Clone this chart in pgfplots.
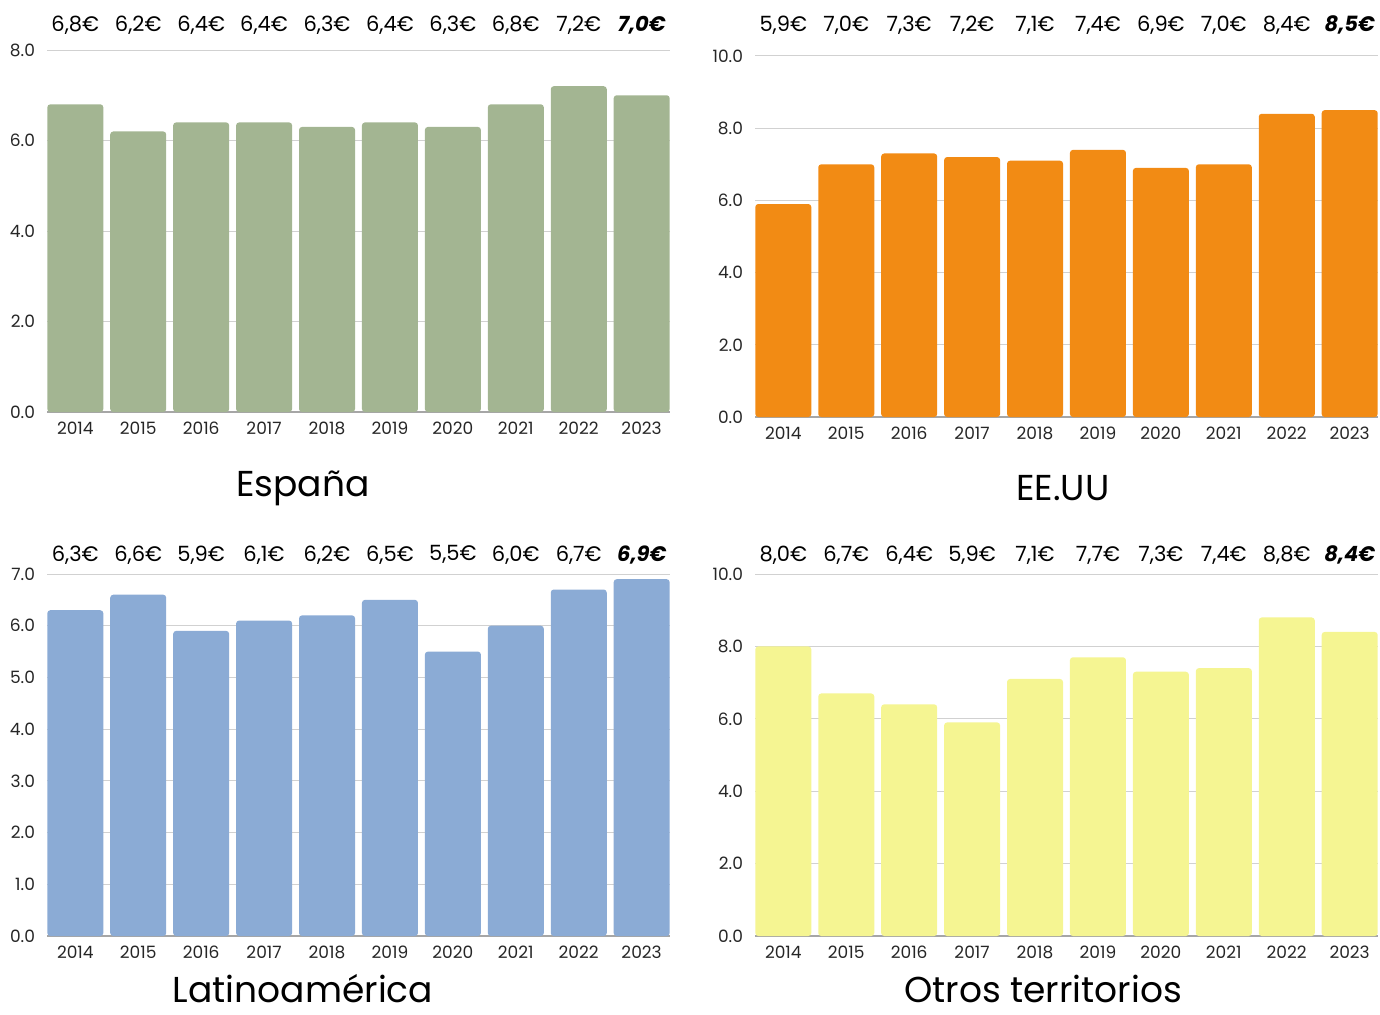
\documentclass[border=0pt]{standalone}
\usepackage{pgfplots}
\pgfplotsset{compat=1.18}
\usepackage{pgfplotstable}
\usepackage{fontspec}
\setmainfont{Poppins}

\definecolor{cEsp}{RGB}{163,181,146}
\definecolor{cUsa}{RGB}{242,139,20}
\definecolor{cLat}{RGB}{139,171,213}
\definecolor{cOtr}{RGB}{245,245,146}

% precio medio por año y territorio
\pgfplotstableread{
x v
2014 6.8
2015 6.2
2016 6.4
2017 6.4
2018 6.3
2019 6.4
2020 6.3
2021 6.8
2022 7.2
2023 7.0
}\esp
\pgfplotstableread{
x v
2014 5.9
2015 7.0
2016 7.3
2017 7.2
2018 7.1
2019 7.4
2020 6.9
2021 7.0
2022 8.4
2023 8.5
}\usa
\pgfplotstableread{
x v
2014 6.3
2015 6.6
2016 5.9
2017 6.1
2018 6.2
2019 6.5
2020 5.5
2021 6.0
2022 6.7
2023 6.9
}\lat
\pgfplotstableread{
x v
2014 8.0
2015 6.7
2016 6.4
2017 5.9
2018 7.1
2019 7.7
2020 7.3
2021 7.4
2022 8.8
2023 8.4
}\otr

\pgfplotsset{
  panel/.style={
    scale only axis, width=311.5pt, anchor=south west,
    xmin=2013.55, xmax=2023.45, ymin=0,
    xtick={2014,...,2023},
    axis x line*=bottom, axis y line*=left,
    y axis line style={draw=none},
    x axis line style={draw=black!35, line width=0.6pt, -},
    ymajorgrids, grid style={draw=black!18, line width=0.5pt},
    major tick length=0pt,
    ticklabel style={font=\fontsize{8.5}{10}\selectfont, text=black!85},
    /pgf/number format/assume math mode=true,
    xticklabel style={yshift=-1.5pt, /pgf/number format/1000 sep={}},
    yticklabel style={xshift=-2.5pt, /pgf/number format/.cd, fixed, fixed zerofill, precision=1},
    clip=false,
  },
  bars/.style={ybar, bar width=28pt, fill=#1, draw=none, rounded corners=1.5pt},
  labs/.style={draw=none, mark=none, nodes near coords, point meta=explicit,
    every node near coord/.append style={anchor=center, font=\fontsize{10.5}{12}\selectfont},
    nodes near coords={\pgfmathprintnumber[fixed, fixed zerofill, precision=1, use comma, assume math mode=true]{\pgfplotspointmeta}€}},
  lastlab/.style={labs,
    every node near coord/.append style={font=\fontsize{10.5}{12}\selectfont\bfseries\itshape}},
}

\begin{document}
\begin{tikzpicture}
\useasboundingbox (0,0) rectangle (690pt,507pt);

\begin{axis}[panel, at={(23.5pt,301pt)}, height=181pt, ymax=8, ytick={0,2,...,8}]
  \addplot[bars=cEsp] table[x=x, y=v] {\esp};
  \addplot[labs, restrict x to domain=2014:2022] table[x=x, y expr=8.55, meta=v] {\esp};
  \addplot[lastlab, restrict x to domain=2023:2023] table[x=x, y expr=8.55, meta=v] {\esp};
\end{axis}

\begin{axis}[panel, at={(377.5pt,298.5pt)}, height=180.5pt, ymax=10, ytick={0,2,...,10}]
  \addplot[bars=cUsa] table[x=x, y=v] {\usa};
  \addplot[labs, restrict x to domain=2014:2022] table[x=x, y expr=10.85, meta=v] {\usa};
  \addplot[lastlab, restrict x to domain=2023:2023] table[x=x, y expr=10.85, meta=v] {\usa};
\end{axis}

\begin{axis}[panel, at={(23.5pt,39pt)}, height=181pt, ymax=7, ytick={0,1,...,7}]
  \addplot[bars=cLat] table[x=x, y=v] {\lat};
  \addplot[labs, restrict x to domain=2014:2022] table[x=x, y expr=7.37, meta=v] {\lat};
  \addplot[lastlab, restrict x to domain=2023:2023] table[x=x, y expr=7.37, meta=v] {\lat};
\end{axis}

\begin{axis}[panel, at={(377.5pt,39pt)}, height=181pt, ymax=10, ytick={0,2,...,10}]
  \addplot[bars=cOtr] table[x=x, y=v] {\otr};
  \addplot[labs, restrict x to domain=2014:2022] table[x=x, y expr=10.52, meta=v] {\otr};
  \addplot[lastlab, restrict x to domain=2023:2023] table[x=x, y expr=10.52, meta=v] {\otr};
\end{axis}

\begin{scope}[every node/.style={font=\fontsize{18}{20}\selectfont, inner sep=0pt}]
  \node at (151.5pt,263pt) {España};
  \node at (531.5pt,263pt) {EE.UU};
  \node at (151.5pt,12.5pt) {Latinoamérica};
  \node at (521.5pt,12.5pt) {Otros territorios};
\end{scope}
\end{tikzpicture}
\end{document}
